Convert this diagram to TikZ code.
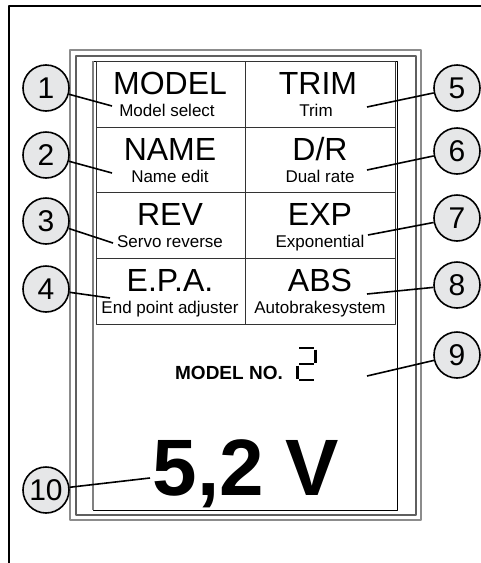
\documentclass[tikz,border=0pt]{standalone}
\usepackage{fontspec}
\setmainfont{Liberation Sans}
\definecolor{callgray}{HTML}{E6E7E8}
\definecolor{framegray}{HTML}{8C8C8C}
\definecolor{framedark}{HTML}{5F5F5F}
\definecolor{griddark}{HTML}{333333}
\begin{document}
\begin{tikzpicture}[x=1pt,y=-1pt,line join=round,
	big/.style={anchor=base,inner sep=0pt,font=\fontsize{32}{32}\selectfont},
	small/.style={anchor=base,inner sep=0pt,font=\fontsize{17}{17}\selectfont},
	num/.style={circle,draw,line width=1.6pt,fill=callgray,minimum size=46pt,inner sep=0pt,font=\fontsize{30}{30}\selectfont},
	lead/.style={line width=1.6pt},
	gridline/.style={line width=0.8pt,griddark}]
	\useasboundingbox (0,0) rectangle (481,563);
	% housing
	\draw[line width=2pt] (9,563)--(9,6)--(481,6);
	\draw[line width=1.3pt,framegray] (70,50) rectangle (421,520);
	\draw[line width=1.3pt,framedark] (76,56) rectangle (416,515);
	\draw[line width=0.9pt] (93,61) rectangle (397,510);
	\draw[line width=1.8pt,gray] (93,61)--(93,510);
	% menu grid
	\draw[gridline] (96,61) rectangle (395,324) (245,61)--(245,324);
	\foreach \y in {127,192,258} \draw[gridline] (96,\y)--(395,\y);
	% left column
	\node[big] (model) at (170,94) {MODEL};
	\node[small] (models) at (167,116) {Model select};
	\node[big] (name) at (170,160) {NAME};
	\node[small] (names) at (170,182) {Name edit};
	\node[big] (rev) at (170,225) {REV};
	\node[small] (revs) at (170,247) {Servo reverse};
	\node[big] (epa) at (170,291) {E.P.A.};
	\node[small] (epas) at (170,313) {End point adjuster};
	% right column
	\node[big] (trim) at (318,94) {TRIM};
	\node[small] (trims) at (316,116) {Trim};
	\node[big] (dr) at (320,160) {D/R};
	\node[small] (drs) at (320,182) {Dual rate};
	\node[big] (exp) at (320,225) {EXP};
	\node[small] (exps) at (320,247) {Exponential};
	\node[big] (abs) at (320,291) {ABS};
	\node[small] (abss) at (320,313) {Autobrakesystem};
	% model number and voltage
	\node[anchor=base,inner sep=0pt,font=\fontsize{19}{19}\selectfont\bfseries] (modelno) at (229,379) {MODEL NO.};
	\draw[line width=2.4pt] (299,348)--(314,348) (315.5,349.5)--(315.5,362.5) (299,364)--(314,364)
		(297.5,365.5)--(297.5,378.5) (299,380)--(314,380);
	\node[anchor=base,inner sep=0pt,font=\fontsize{80}{80}\selectfont\bfseries] (volt) at (246,495) {5,2 V};
	% callouts
	\foreach \n/\cx/\cy/\tx/\ty in {1/46/88/112/106, 2/46/155/112/173, 3/46/221/113/243, 4/46/289/110/298,
		5/457/88/367/107, 6/457/151/367/170, 7/457/218/368/235, 8/457/285/367/294, 9/457/355/367/376, 10/46/490/150/478}{
		\node[num] (c\n) at (\cx,\cy) {\n};
		\coordinate (t\n) at (\tx,\ty);
		\draw[lead] (c\n) -- (t\n);
	}
\end{tikzpicture}
\end{document}
